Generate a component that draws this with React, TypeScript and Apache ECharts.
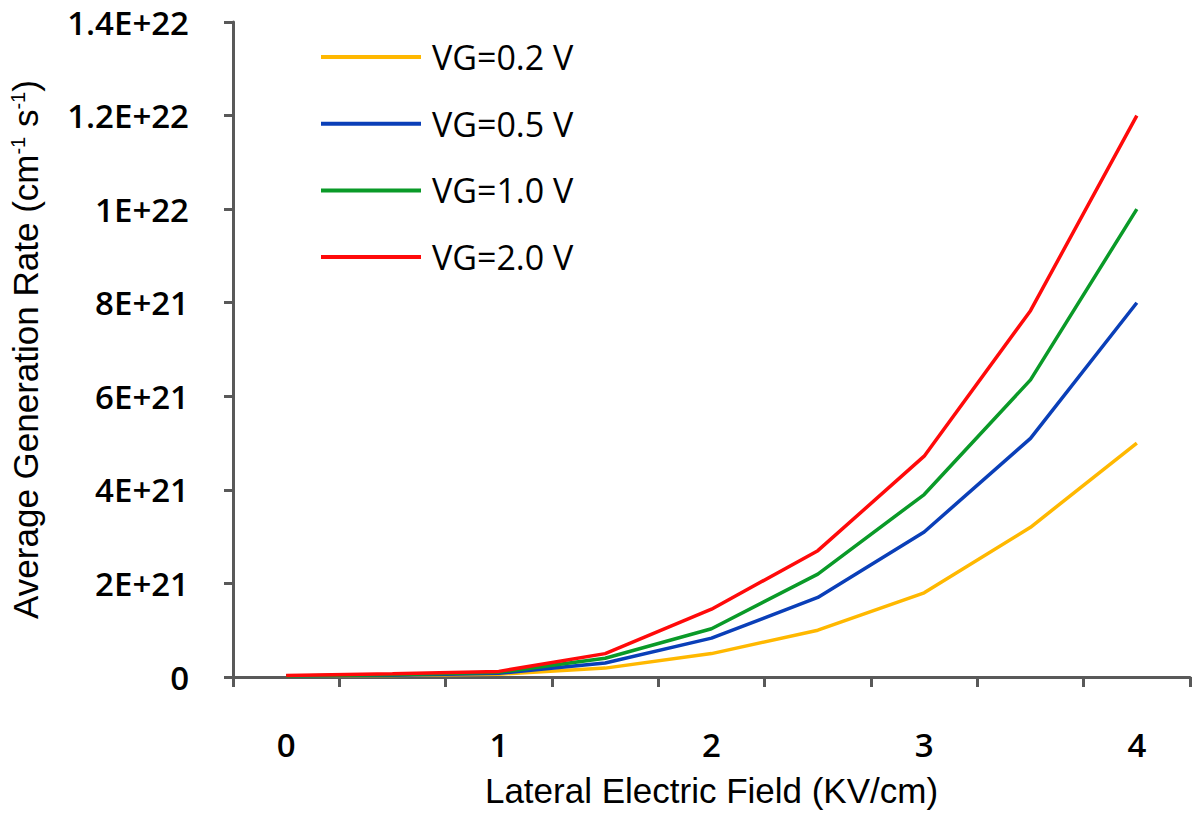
import React, { useEffect, useRef } from "react";
import * as echarts from "echarts";

const xCategories = ["0", "0.5", "1", "1.5", "2", "2.5", "3", "3.5", "4"];
const seriesNames = ["VG=0.2 V", "VG=0.5 V", "VG=1.0 V", "VG=2.0 V"];
const vg02 = [2e19, 3e19, 6e19, 1.9e20, 5e20, 1.0e21, 1.8e21, 3.2e21, 5.0e21];
const vg05 = [2e19, 4e19, 8e19, 3e20, 8.3e20, 1.7e21, 3.1e21, 5.1e21, 8.0e21];
const vg10 = [2e19, 5e19, 1e20, 4e20, 1.03e21, 2.2e21, 3.9e21, 6.35e21, 1.0e22];
const vg20 = [3e19, 7e19, 1.2e20, 5e20, 1.45e21, 2.7e21, 4.72e21, 7.83e21, 1.2e22];
const seriesColors = ["#FFB800", "#0A3FB8", "#0A9A28", "#FF0A0A"];
const yMax = 1.4e22;
const yStep = 2e21;

const tickFont = "'Open Sans', 'DejaVu Sans', sans-serif";
const titleFont = "'Liberation Sans', Arial, sans-serif";

function fmtExp(v: number): string {
  if (v === 0) return "0";
  const e = Math.floor(Math.log10(v) + 1e-9);
  const m = parseFloat((v / Math.pow(10, e)).toFixed(2));
  return `${m}E+${e}`;
}

export default function App() {
  const ref = useRef<HTMLDivElement>(null);
  useEffect(() => {
    document.body.style.margin = "0";
    const chart = echarts.init(ref.current!, undefined, { renderer: "svg" });
    const data = [vg02, vg05, vg10, vg20];
    chart.setOption({
      animation: false,
      backgroundColor: "#ffffff",
      grid: { left: 232, right: 10, top: 22, bottom: 137, containLabel: false },
      legend: {
        orient: "vertical",
        left: 316,
        top: 32,
        icon: "rect",
        itemWidth: 100,
        itemHeight: 4,
        itemGap: 26.7,
        data: seriesNames,
        textStyle: {
          fontFamily: tickFont,
          fontSize: 34,
          color: "#000",
          lineHeight: 40,
          padding: [0, 0, 0, 6],
        },
      },
      xAxis: {
        type: "category",
        data: xCategories,
        boundaryGap: true,
        name: "Lateral Electric Field (KV/cm)",
        nameLocation: "middle",
        nameGap: 96,
        nameTextStyle: { fontFamily: titleFont, fontSize: 35, color: "#000" },
        axisLine: { lineStyle: { color: "#595959", width: 3 } },
        axisTick: { show: true, interval: 0, alignWithLabel: false, length: 10, lineStyle: { color: "#595959", width: 3 } },
        axisLabel: {
          interval: 1,
          margin: 51,
          fontFamily: tickFont,
          fontWeight: 600,
          fontSize: 33,
          lineHeight: 33,
          color: "#000",
        },
        splitLine: { show: false },
      },
      yAxis: {
        type: "value",
        min: 0,
        max: yMax,
        interval: yStep,
        name: "Average Generation Rate (cm{sup|-1} s{sup|-1})",
        nameLocation: "middle",
        nameGap: 190,
        nameTextStyle: {
          fontFamily: titleFont,
          fontSize: 35,
          color: "#000",
          rich: {
            sup: { fontFamily: titleFont, fontSize: 20, color: "#000", verticalAlign: "top", lineHeight: 35, padding: [0, 0, 12, 0] },
          },
        },
        axisLine: { show: true, lineStyle: { color: "#595959", width: 3 } },
        axisTick: { show: true, length: 9, lineStyle: { color: "#595959", width: 3 } },
        axisLabel: {
          margin: 44,
          fontFamily: tickFont,
          fontWeight: 600,
          fontSize: 33,
          lineHeight: 33,
          color: "#000",
          formatter: (v: number) => fmtExp(v),
        },
        splitLine: { show: false },
      },
      series: seriesNames.map((n, i) => ({
        name: n,
        type: "line",
        data: data[i],
        symbol: "none",
        showSymbol: false,
        smooth: false,
        lineStyle: { color: seriesColors[i], width: 3.5 },
        itemStyle: { color: seriesColors[i] },
      })),
    });
    return () => chart.dispose();
  }, []);
  return <div ref={ref} style={{ width: 1200, height: 814 }} />;
}
